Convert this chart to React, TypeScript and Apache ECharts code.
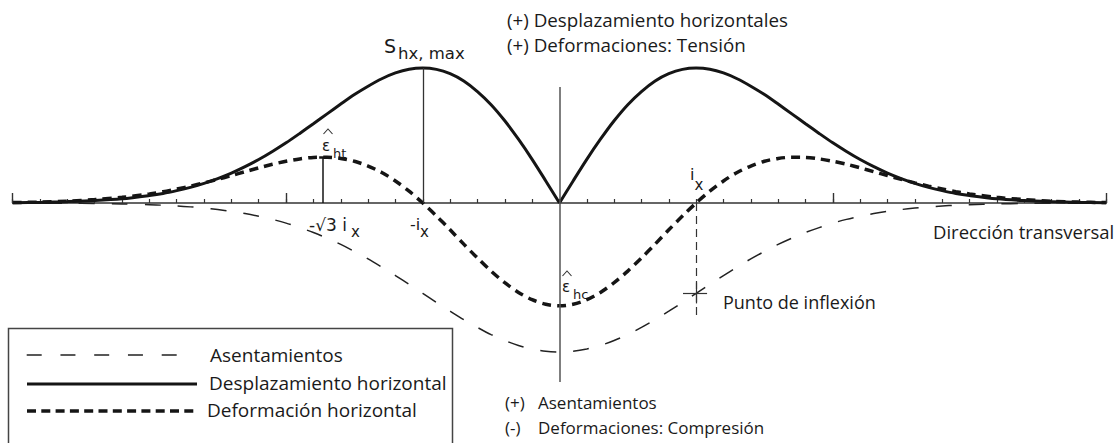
import React, { useEffect, useRef } from "react";
import * as echarts from "echarts";

// Transverse position (units of axis ticks; i_x = 5)
const XS = [
  -20, -19, -18, -17, -16, -15, -14.5, -14, -13.5, -13, -12.5, -12, -11.5, -11, -10.5, -10,
  -9.5, -9, -8.5, -8, -7.5, -7, -6.5, -6, -5.5, -5, -4.5, -4, -3.5, -3, -2.5, -2, -1.5, -1,
  -0.5, 0, 0.5, 1, 1.5, 2, 2.5, 3, 3.5, 4, 4.5, 5, 5.5, 6, 6.5, 7, 7.5, 8, 8.5, 9, 9.5, 10,
  10.5, 11, 11.5, 12, 12.5, 13, 13.5, 14, 14.5, 15, 16, 17, 18, 19, 20,
];

// Asentamientos (settlement)
const SETTLEMENT = [
  0, -0.001, -0.002, -0.003, -0.006, -0.011, -0.015, -0.02, -0.026, -0.034, -0.044, -0.056,
  -0.071, -0.089, -0.11, -0.135, -0.165, -0.198, -0.236, -0.278, -0.325, -0.375, -0.43, -0.487,
  -0.546, -0.607, -0.667, -0.726, -0.783, -0.835, -0.883, -0.923, -0.956, -0.98, -0.995, -1.0,
  -0.995, -0.98, -0.956, -0.923, -0.883, -0.835, -0.783, -0.726, -0.667, -0.607, -0.546, -0.487,
  -0.43, -0.375, -0.325, -0.278, -0.236, -0.198, -0.165, -0.135, -0.11, -0.089, -0.071, -0.056,
  -0.044, -0.034, -0.026, -0.02, -0.015, -0.011, -0.006, -0.003, -0.002, -0.001, 0,
];

// Desplazamiento horizontal (horizontal displacement, magnitude)
const DISPLACEMENT = [
  0.002, 0.004, 0.009, 0.016, 0.028, 0.05, 0.064, 0.083, 0.105, 0.132, 0.164, 0.201, 0.244,
  0.292, 0.346, 0.404, 0.467, 0.532, 0.598, 0.664, 0.728, 0.784, 0.834, 0.873, 0.898, 0.906,
  0.897, 0.868, 0.819, 0.748, 0.66, 0.552, 0.428, 0.293, 0.148, 0,
  0.148, 0.293, 0.428, 0.552, 0.66, 0.748, 0.819, 0.868, 0.897, 0.906, 0.898, 0.873, 0.834,
  0.784, 0.728, 0.664, 0.598, 0.532, 0.467, 0.404, 0.346, 0.292, 0.244, 0.201, 0.164, 0.132,
  0.105, 0.083, 0.064, 0.05, 0.028, 0.016, 0.009, 0.004, 0.002,
];

// Deformación horizontal (horizontal strain)
const STRAIN = [
  0.003, 0.006, 0.012, 0.023, 0.038, 0.061, 0.076, 0.094, 0.113, 0.135, 0.159, 0.184, 0.21,
  0.236, 0.26, 0.28, 0.296, 0.306, 0.307, 0.299, 0.28, 0.248, 0.205, 0.148, 0.079, 0, -0.087,
  -0.18, -0.276, -0.369, -0.457, -0.535, -0.6, -0.649, -0.68, -0.69,
  -0.68, -0.649, -0.6, -0.535, -0.457, -0.369, -0.276, -0.18, -0.087, 0, 0.079, 0.148, 0.205,
  0.248, 0.28, 0.299, 0.307, 0.306, 0.296, 0.28, 0.26, 0.236, 0.21, 0.184, 0.159, 0.135, 0.113,
  0.094, 0.076, 0.061, 0.038, 0.023, 0.012, 0.006, 0.003,
];

// Key positions / annotation values
const IX = 5;
const SQRT3_IX = 8.66;
const DISP_MAX = 0.906;
const STRAIN_TENSION_MAX = 0.305;
const INFLEXION_SETTLEMENT = -0.604;
const MAJOR_TICKS = [-20, -10, 10, 20];

const INK = "#151515";
const TXT = "#1a1a1a";
const SANS = '"Open Sans", "Noto Sans", sans-serif';
const MATH = '"DejaVu Sans", sans-serif';

function pairs(vals: number[], keep: (x: number) => boolean) {
  const out: number[][] = [];
  XS.forEach((x, i) => {
    if (keep(x)) out.push([x, vals[i]]);
  });
  return out;
}

function seg(x1: number, y1: number, x2: number, y2: number, style: any) {
  return [{ coord: [x1, y1], lineStyle: style }, { coord: [x2, y2] }];
}

function txt(text: string, x: number, y: number, size: number, family = SANS, align = "left") {
  return {
    type: "text",
    x,
    y,
    silent: true,
    style: {
      text,
      fill: TXT,
      fontSize: size,
      fontFamily: family,
      textAlign: align,
      textVerticalAlign: "middle",
      align,
      verticalAlign: "middle",
    },
  };
}

function gline(x1: number, y1: number, x2: number, y2: number, width: number, dash?: number[], color = INK) {
  return {
    type: "line",
    silent: true,
    shape: { x1, y1, x2, y2 },
    style: { stroke: color, lineWidth: width, lineDash: dash || null },
  };
}

function hat(cx: number, cy: number) {
  return {
    type: "polyline",
    silent: true,
    shape: { points: [[cx - 4.5, cy + 2.5], [cx, cy - 2.5], [cx + 4.5, cy + 2.5]] },
    style: { stroke: "#333", lineWidth: 1.1, fill: "none" },
  };
}

export default function App() {
  const ref = useRef<HTMLDivElement>(null);

  useEffect(() => {
    if (!ref.current) return;
    const chart = echarts.init(ref.current, undefined, { renderer: "svg" });

    const thin = { color: "#333", width: 1.3, type: "solid" };
    const markLines = [
      // central vertical line
      seg(0, 0.778, 0, -1.201, { color: "#555", width: 1.5, type: "solid" }),
      // -i_x up to max displacement
      seg(-IX, 0, -IX, DISP_MAX, thin),
      // -sqrt3 i_x up to max tension strain
      seg(-SQRT3_IX, 0, -SQRT3_IX, STRAIN_TENSION_MAX, { color: INK, width: 1.5, type: "solid" }),
      seg(-SQRT3_IX - 0.13, STRAIN_TENSION_MAX, -SQRT3_IX + 0.13, STRAIN_TENSION_MAX, { color: INK, width: 2.5, type: "solid" }),
      // i_x dashed vertical down past the inflexion point
      seg(IX, 0, IX, -0.77, { color: "#333", width: 1.2, type: [8, 5] }),
      // inflexion cross
      seg(IX - 0.48, INFLEXION_SETTLEMENT, IX + 0.4, INFLEXION_SETTLEMENT, { color: "#333", width: 1.2, type: "solid" }),
      seg(IX, INFLEXION_SETTLEMENT + 0.07, IX, INFLEXION_SETTLEMENT - 0.07, { color: "#333", width: 1.2, type: "solid" }),
      // major ticks
      ...MAJOR_TICKS.map((t) => seg(t, 0, t, 0.067, { color: "#333", width: 1.4, type: "solid" })),
    ];

    const option: any = {
      animation: false,
      backgroundColor: "#ffffff",
      grid: { left: 12.7, top: 24.2, width: 1093.5, height: 372.5, containLabel: false },
      xAxis: {
        type: "value",
        min: -20,
        max: 20,
        interval: 1,
        axisLine: { show: true, onZero: true, lineStyle: { color: "#333", width: 1.6 } },
        axisTick: { show: true, inside: true, length: 4, lineStyle: { color: "#333", width: 1.2 } },
        axisLabel: { show: false },
        splitLine: { show: false },
      },
      yAxis: {
        type: "value",
        min: -1.3,
        max: 1.2,
        show: false,
        splitLine: { show: false },
      },
      series: [
        {
          name: "Asentamientos",
          type: "line",
          data: pairs(SETTLEMENT, () => true),
          smooth: 0.3,
          symbol: "none",
          z: 2,
          lineStyle: { color: "#222", width: 1.5, type: [16, 17] },
          markLine: {
            silent: true,
            symbol: ["none", "none"],
            label: { show: false },
            lineStyle: { type: "solid" },
            data: markLines,
          },
        },
        {
          name: "Deformación horizontal",
          type: "line",
          data: pairs(STRAIN, () => true),
          smooth: 0.3,
          symbol: "none",
          z: 3,
          lineStyle: { color: INK, width: 3.5, type: [9, 6] },
        },
        {
          name: "Desplazamiento horizontal",
          type: "line",
          data: pairs(DISPLACEMENT, (x) => x <= 0),
          smooth: 0.3,
          symbol: "none",
          z: 4,
          lineStyle: { color: INK, width: 3 },
        },
        {
          name: "Desplazamiento horizontal (der.)",
          type: "line",
          data: pairs(DISPLACEMENT, (x) => x >= 0),
          smooth: 0.3,
          symbol: "none",
          z: 4,
          lineStyle: { color: INK, width: 3 },
        },
      ],
      graphic: [
        // top annotations
        txt("(+) Desplazamiento horizontales", 507, 19.5, 18.8),
        txt("(+) Deformaciones: Tensión", 507, 45, 18.8),
        // bottom annotations
        txt("(+)", 505, 402, 17),
        txt("Asentamientos", 538, 402, 17),
        txt("(-)", 505, 427, 17),
        txt("Deformaciones: Compresión", 538, 427, 17),
        txt("Punto de inflexión", 723, 302, 18),
        txt("Dirección transversal", 933, 231.7, 18.5),
        // math labels
        txt("S", 384, 46, 19, MATH),
        txt("hx, max", 398, 53.5, 16.5, MATH),
        hat(328, 131.5),
        txt("ε", 322, 145.5, 15, MATH),
        txt("ht", 333, 153, 13, MATH),
        hat(567, 273.5),
        txt("ε", 562, 287, 15, MATH),
        txt("hc", 573, 294, 13, MATH),
        txt("-√3 i", 309, 224.5, 17, MATH),
        txt("x", 351, 231.5, 15, MATH),
        txt("-i", 410, 224.5, 16, MATH),
        txt("x", 420, 231.5, 15, MATH),
        txt("i", 690, 174.5, 16, MATH),
        txt("x", 694.5, 184.5, 15, MATH),
        // legend box
        {
          type: "rect",
          silent: true,
          shape: { x: 8.5, y: 328.5, width: 444, height: 130 },
          style: { fill: "none", stroke: "#444", lineWidth: 1.5 },
        },
        gline(26.7, 355, 176.7, 355, 1.5, [15, 18.75], "#222"),
        gline(27, 384, 197, 384, 3),
        gline(27, 411, 198, 411, 3.5, [9, 5.3]),
        txt("Asentamientos", 210, 354.5, 19),
        txt("Desplazamiento horizontal", 209, 382.5, 19),
        txt("Deformación horizontal", 207, 409.5, 19),
      ],
    };

    chart.setOption(option);
    return () => chart.dispose();
  }, []);

  return (
    <div
      ref={ref}
      style={{ position: "fixed", left: 0, top: 0, width: 1119, height: 443, background: "#fff" }}
    />
  );
}
